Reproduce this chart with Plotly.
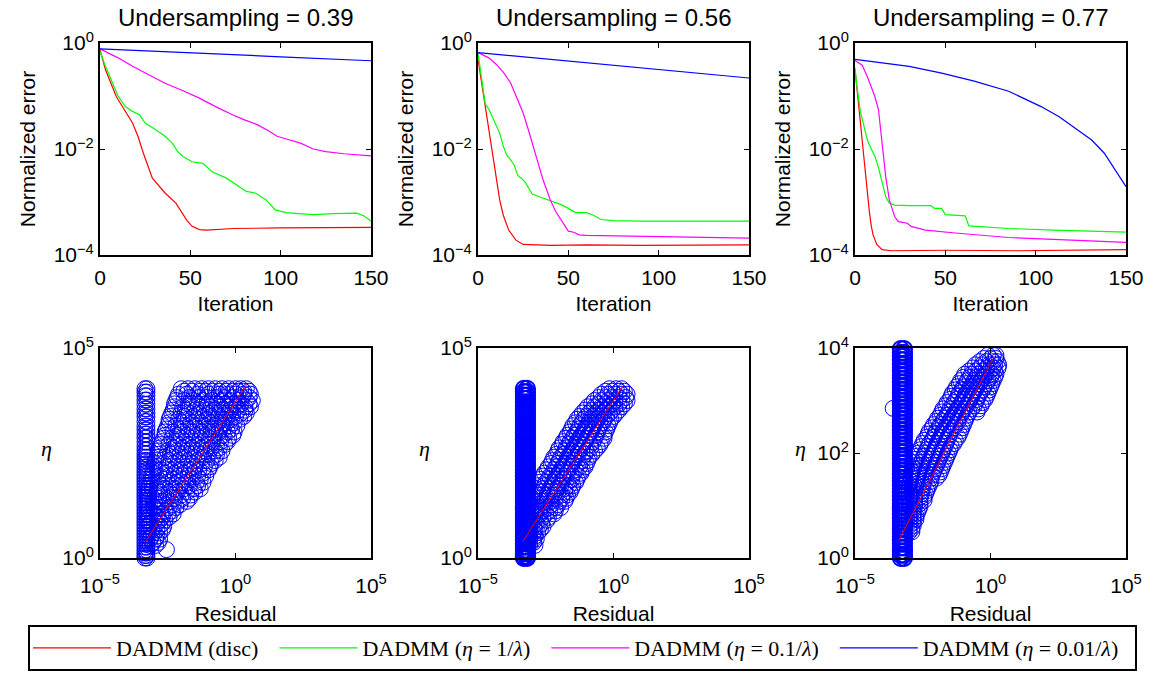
import plotly.graph_objects as go

W, H = 1165, 675

# ---------------- convergence curves (iteration, log10 normalized error) ----------------
undersampling = ["0.39", "0.56", "0.77"]

# 0.39
it_red_039 = [0, 3, 9, 14, 18, 21, 24, 29, 36, 42, 48, 51, 55, 59, 65, 74, 100, 150]
err_red_039 = [-0.13, -0.50, -1.01, -1.29, -1.51, -1.76, -2.08, -2.55, -2.83, -3.02, -3.34, -3.46, -3.52, -3.53, -3.52, -3.50, -3.49, -3.48]
it_grn_039 = [0, 3, 7, 10, 14, 18, 22, 25, 30, 36, 40, 43, 46, 51, 57, 62, 70, 77, 81, 86, 92, 97, 103, 110, 118, 129, 142, 146, 150]
err_grn_039 = [-0.16, -0.44, -0.76, -1.00, -1.20, -1.29, -1.36, -1.51, -1.62, -1.76, -1.89, -2.05, -2.14, -2.24, -2.27, -2.43, -2.55, -2.71, -2.80, -2.83, -2.96, -3.15, -3.20, -3.22, -3.24, -3.22, -3.21, -3.26, -3.36]
it_mag_039 = [0, 10, 18, 27, 36, 46, 55, 64, 73, 80, 87, 93, 98, 105, 111, 118, 125, 135, 150]
err_mag_039 = [-0.11, -0.28, -0.44, -0.60, -0.76, -0.90, -1.04, -1.20, -1.35, -1.45, -1.54, -1.65, -1.76, -1.83, -1.89, -2.00, -2.05, -2.09, -2.13]
it_blu_039 = [0, 50, 100, 150]
err_blu_039 = [-0.11, -0.18, -0.26, -0.335]

# 0.56
it_red_056 = [0, 2, 4, 6, 8, 10, 12, 14, 17, 21, 25, 40, 60, 90, 120, 150]
err_red_056 = [-0.31, -0.75, -1.15, -1.60, -2.10, -2.55, -2.96, -3.25, -3.53, -3.72, -3.80, -3.82, -3.81, -3.82, -3.81, -3.81]
it_grn_056 = [0, 2, 4, 6, 8, 10, 12, 14, 16, 18, 20, 22, 24, 26, 28, 30, 34, 38, 42, 46, 50, 54, 60, 64, 68, 75, 90, 150]
err_grn_056 = [-0.19, -0.70, -1.15, -1.25, -1.40, -1.55, -1.70, -1.95, -2.12, -2.20, -2.30, -2.50, -2.55, -2.62, -2.75, -2.85, -2.90, -2.95, -3.00, -3.05, -3.12, -3.20, -3.20, -3.25, -3.33, -3.35, -3.36, -3.36]
it_mag_056 = [0, 6, 10, 14, 18, 21, 25, 28, 30, 32, 34, 36, 38, 40, 43, 47, 50, 53, 56, 60, 80, 100, 150]
err_mag_056 = [-0.18, -0.28, -0.40, -0.55, -0.75, -1.00, -1.32, -1.65, -1.90, -2.12, -2.35, -2.58, -2.78, -2.96, -3.18, -3.40, -3.55, -3.57, -3.62, -3.63, -3.64, -3.65, -3.68]
it_blu_056 = [0, 50, 100, 150]
err_blu_056 = [-0.18, -0.34, -0.50, -0.66]

# 0.77
it_red_077 = [0, 1, 2, 3, 4, 5, 6, 7, 8, 9, 10, 12, 15, 20, 50, 90, 130, 150]
err_red_077 = [-0.50, -0.80, -1.15, -1.50, -1.85, -2.20, -2.55, -2.90, -3.20, -3.45, -3.62, -3.80, -3.90, -3.92, -3.91, -3.92, -3.91, -3.90]
it_grn_077 = [0, 1, 3, 5, 7, 9, 11, 13, 15, 17, 19, 22, 30, 42, 44, 48, 50, 55, 61, 63, 70, 85, 110, 150]
err_grn_077 = [-0.47, -0.80, -1.30, -1.60, -1.85, -2.00, -2.14, -2.35, -2.62, -2.90, -3.02, -3.06, -3.07, -3.07, -3.12, -3.12, -3.24, -3.25, -3.26, -3.45, -3.47, -3.50, -3.53, -3.57]
it_mag_077 = [0, 4, 7, 9, 11, 13, 14, 15, 16, 17, 19, 22, 24, 29, 31, 39, 57, 85, 120, 150]
err_mag_077 = [-0.33, -0.42, -0.65, -0.82, -1.01, -1.26, -1.55, -1.89, -2.25, -2.52, -2.96, -3.28, -3.37, -3.40, -3.46, -3.53, -3.59, -3.67, -3.72, -3.76]
it_blu_077 = [0, 30, 48, 66, 85, 103, 113, 122, 131, 138, 144, 150]
err_blu_077 = [-0.31, -0.44, -0.57, -0.72, -0.91, -1.20, -1.39, -1.61, -1.83, -2.08, -2.39, -2.71]

series_names = [
    "DADMM (disc)",
    "DADMM (<i>η</i> = 1/<i>λ</i>)",
    "DADMM (<i>η</i> = 0.1/<i>λ</i>)",
    "DADMM (<i>η</i> = 0.01/<i>λ</i>)",
]
series_colors = ["rgb(255,0,0)", "rgb(0,255,0)", "rgb(255,0,255)", "rgb(0,0,255)"]

curves = [
    [(it_red_039, err_red_039), (it_grn_039, err_grn_039), (it_mag_039, err_mag_039), (it_blu_039, err_blu_039)],
    [(it_red_056, err_red_056), (it_grn_056, err_grn_056), (it_mag_056, err_mag_056), (it_blu_056, err_blu_056)],
    [(it_red_077, err_red_077), (it_grn_077, err_grn_077), (it_mag_077, err_mag_077), (it_blu_077, err_blu_077)],
]

# ---------------- eta vs residual (log10 residual, log10 eta) ----------------
# vertical column of points at the residual floor
col_res_039 = [-3.34, -3.27]
col_eta_039 = [4.03, 3.95, 3.86, 3.76, 3.66, 3.55, 3.45, 3.36, 3.25, 3.14, 3.05, 2.95, 2.86, 2.76, 2.66,
               2.57, 2.48, 2.40, 2.32, 2.24, 2.16, 2.08, 2.01, 1.94, 1.87, 1.80, 1.73, 1.66, 1.59, 1.52,
               1.45, 1.38, 1.31, 1.24, 1.17, 1.10, 1.03, 0.96, 0.89, 0.82, 0.75, 0.68, 0.61, 0.54, 0.47,
               0.40, 0.33, 0.26, 0.19, 0.12, 0.06, 0.00]
col_res_056 = [-3.31, -3.19]
col_eta_056 = [4.03, 3.95, 3.87, 3.79, 3.71, 3.63, 3.55, 3.47, 3.39, 3.31, 3.23, 3.15, 3.07, 2.99, 2.91,
               2.83, 2.75, 2.67, 2.59, 2.51, 2.43, 2.35, 2.27, 2.19, 2.11, 2.03, 1.95, 1.87, 1.79, 1.71,
               1.63, 1.55, 1.47, 1.39, 1.31, 1.23, 1.15, 1.07, 0.99, 0.91, 0.83, 0.75, 0.67, 0.59, 0.51,
               0.43, 0.35, 0.27, 0.19, 0.11, 0.04, 0.00]
col_res_077 = [-3.31, -3.19]
col_eta_077 = [3.98, 3.91, 3.84, 3.77, 3.70, 3.63, 3.56, 3.49, 3.42, 3.35, 3.28, 3.21, 3.14, 3.07, 3.00,
               2.93, 2.86, 2.79, 2.72, 2.65, 2.58, 2.51, 2.44, 2.37, 2.30, 2.23, 2.16, 2.09, 2.02, 1.95,
               1.88, 1.81, 1.74, 1.67, 1.60, 1.53, 1.46, 1.39, 1.32, 1.25, 1.18, 1.11, 1.04, 0.97, 0.90,
               0.83, 0.76, 0.69, 0.62, 0.55, 0.48, 0.41, 0.34, 0.27, 0.20, 0.13, 0.06, 0.00]

# diagonal band: rows of (log10 eta, [log10 residual, ...])
band_039 = [
    (4.03, [-2.0, -1.75, -1.5, -1.25, -1.0, -0.75, -0.5, -0.25, 0.0, 0.2, 0.4]),
    (3.97, [-1.9, -1.6, -1.3, -1.1, -0.85, -0.6, -0.35, -0.1, 0.1, 0.3, 0.5]),
    (3.90, [-2.1, -1.8, -1.4, -1.0, -0.6, -0.3, 0.0, 0.3, 0.55]),
    (3.82, [-2.15, -1.7, -1.35, -1.05, -0.7, -0.4, -0.1, 0.25, 0.5]),
    (3.75, [-2.2, -1.9, -1.55, -1.2, -0.85, -0.5, -0.2, 0.1, 0.4, 0.62]),
    (3.67, [-2.25, -1.75, -1.4, -1.05, -0.7, -0.4, -0.1, 0.2, 0.5]),
    (3.60, [-2.25, -1.95, -1.6, -1.25, -0.9, -0.55, -0.25, 0.05, 0.35, 0.55]),
    (3.52, [-2.3, -1.85, -1.5, -1.15, -0.8, -0.5, -0.2, 0.1, 0.35]),
    (3.45, [-2.35, -2.0, -1.7, -1.35, -1.0, -0.7, -0.4, -0.1, 0.2, 0.4]),
    (3.37, [-2.4, -1.9, -1.55, -1.2, -0.9, -0.6, -0.3, 0.0, 0.3]),
    (3.30, [-2.45, -2.1, -1.75, -1.4, -1.05, -0.75, -0.45, -0.15, 0.15]),
    (3.22, [-2.45, -2.0, -1.65, -1.3, -0.95, -0.65, -0.35, -0.05]),
    (3.15, [-2.5, -2.2, -1.85, -1.5, -1.15, -0.8, -0.5, -0.2, 0.05]),
    (3.07, [-2.55, -2.1, -1.75, -1.4, -1.05, -0.75, -0.45, -0.15]),
    (3.00, [-2.6, -2.3, -1.95, -1.6, -1.25, -0.9, -0.6, -0.3, -0.05]),
    (2.92, [-2.6, -2.15, -1.8, -1.45, -1.1, -0.8, -0.45, -0.1]),
    (2.85, [-2.65, -2.35, -2.0, -1.65, -1.3, -0.95, -0.6, -0.25]),
    (2.77, [-2.7, -2.25, -1.9, -1.55, -1.2, -0.85, -0.55, -0.3]),
    (2.70, [-2.75, -2.45, -2.1, -1.75, -1.4, -1.05, -0.7, -0.4]),
    (2.62, [-2.8, -2.3, -1.95, -1.6, -1.25, -0.9, -0.6]),
    (2.55, [-2.85, -2.5, -2.15, -1.8, -1.45, -1.1, -0.75, -0.5]),
    (2.47, [-2.85, -2.4, -2.05, -1.7, -1.35, -1.0, -0.7]),
    (2.40, [-2.9, -2.6, -2.25, -1.9, -1.55, -1.2, -0.85, -0.6]),
    (2.32, [-2.95, -2.45, -2.1, -1.75, -1.4, -1.05, -0.75]),
    (2.25, [-3.0, -2.65, -2.3, -1.95, -1.6, -1.25, -0.9]),
    (2.17, [-3.0, -2.55, -2.2, -1.85, -1.5, -1.15, -0.95]),
    (2.10, [-3.05, -2.75, -2.4, -2.05, -1.7, -1.35, -1.0]),
    (2.02, [-3.05, -2.6, -2.25, -1.9, -1.55, -1.2]),
    (1.95, [-3.1, -2.8, -2.45, -2.1, -1.75, -1.4, -1.1]),
    (1.87, [-3.1, -2.65, -2.3, -1.95, -1.6, -1.3]),
    (1.80, [-3.15, -2.85, -2.5, -2.15, -1.8, -1.45, -1.2]),
    (1.72, [-3.15, -2.75, -2.4, -2.05, -1.7, -1.4]),
    (1.65, [-3.2, -2.9, -2.6, -2.25, -1.9, -1.55, -1.3]),
    (1.57, [-3.2, -2.8, -2.45, -2.15, -1.8, -1.5]),
    (1.50, [-3.2, -2.95, -2.65, -2.3, -2.0, -1.65]),
    (1.42, [-3.2, -2.85, -2.55, -2.25, -1.95, -1.7]),
    (1.35, [-3.25, -3.0, -2.7, -2.4, -2.1, -1.8]),
    (1.27, [-3.25, -2.9, -2.6, -2.3, -2.05]),
    (1.20, [-3.25, -3.0, -2.75, -2.45, -2.2]),
    (1.12, [-3.2, -2.9, -2.6, -2.35]),
    (1.05, [-3.25, -3.0, -2.75, -2.5, -2.3]),
    (0.97, [-3.2, -2.9, -2.7, -2.45]),
    (0.90, [-3.25, -3.0, -2.8, -2.6]),
    (0.82, [-3.15, -2.9, -2.7]),
    (0.75, [-3.2, -3.0, -2.8, -2.65]),
    (0.67, [-3.1, -2.9, -2.7]),
    (0.60, [-3.2, -3.0, -2.8]),
    (0.52, [-3.1, -2.9]),
    (0.45, [-3.15, -2.95, -2.8]),
    (0.37, [-3.05, -2.85]),
    (0.30, [-3.15, -2.95]),
    (0.20, [-2.55]),
]
band_056 = [
    (4.03, [-0.15, 0.1, 0.3]),
    (3.97, [-0.3, -0.05, 0.2, 0.4]),
    (3.90, [-0.45, -0.2, 0.05, 0.3, 0.5]),
    (3.82, [-0.55, -0.3, -0.05, 0.2, 0.45]),
    (3.75, [-0.7, -0.45, -0.2, 0.05, 0.3, 0.5]),
    (3.67, [-0.8, -0.55, -0.3, -0.05, 0.2, 0.4]),
    (3.60, [-0.95, -0.7, -0.45, -0.2, 0.05, 0.3]),
    (3.52, [-1.05, -0.8, -0.55, -0.3, -0.05, 0.2]),
    (3.45, [-1.15, -0.9, -0.65, -0.4, -0.15, 0.1]),
    (3.37, [-1.25, -1.0, -0.75, -0.5, -0.25, 0.0]),
    (3.30, [-1.35, -1.1, -0.85, -0.6, -0.35, -0.1]),
    (3.22, [-1.4, -1.15, -0.9, -0.65, -0.4, -0.15]),
    (3.15, [-1.5, -1.25, -1.0, -0.75, -0.5, -0.2]),
    (3.07, [-1.55, -1.3, -1.05, -0.8, -0.55, -0.25]),
    (3.00, [-1.6, -1.35, -1.1, -0.85, -0.6, -0.3]),
    (2.92, [-1.7, -1.45, -1.2, -0.95, -0.65, -0.35]),
    (2.85, [-1.75, -1.5, -1.25, -1.0, -0.7, -0.35]),
    (2.77, [-1.85, -1.6, -1.35, -1.05, -0.75, -0.45]),
    (2.70, [-1.9, -1.65, -1.4, -1.15, -0.85, -0.5]),
    (2.62, [-2.0, -1.75, -1.45, -1.15, -0.85, -0.6]),
    (2.55, [-2.05, -1.8, -1.55, -1.3, -1.0, -0.7]),
    (2.47, [-2.1, -1.85, -1.6, -1.3, -1.05, -0.8]),
    (2.40, [-2.2, -1.95, -1.7, -1.45, -1.15, -0.9]),
    (2.32, [-2.25, -2.0, -1.7, -1.45, -1.15, -0.95]),
    (2.25, [-2.3, -2.05, -1.8, -1.55, -1.3, -1.0]),
    (2.17, [-2.4, -2.1, -1.85, -1.55, -1.25, -1.05]),
    (2.10, [-2.45, -2.2, -1.95, -1.7, -1.4, -1.15]),
    (2.02, [-2.55, -2.25, -2.0, -1.7, -1.45, -1.2]),
    (1.95, [-2.6, -2.35, -2.1, -1.85, -1.55, -1.3]),
    (1.87, [-2.7, -2.4, -2.15, -1.85, -1.55, -1.35]),
    (1.80, [-2.75, -2.5, -2.25, -2.0, -1.7, -1.4]),
    (1.72, [-2.8, -2.55, -2.25, -1.95, -1.65, -1.5]),
    (1.65, [-2.85, -2.6, -2.35, -2.1, -1.8, -1.55]),
    (1.57, [-2.9, -2.65, -2.35, -2.05, -1.8, -1.6]),
    (1.50, [-2.95, -2.7, -2.45, -2.2, -1.9, -1.7]),
    (1.42, [-3.0, -2.7, -2.45, -2.15, -1.9, -1.75]),
    (1.35, [-3.0, -2.8, -2.55, -2.3, -2.0, -1.8]),
    (1.27, [-3.05, -2.8, -2.55, -2.3, -2.05]),
    (1.20, [-3.05, -2.85, -2.65, -2.4, -2.15, -1.95]),
    (1.12, [-3.05, -2.85, -2.6, -2.35, -2.15]),
    (1.05, [-3.1, -2.9, -2.7, -2.5, -2.2]),
    (0.97, [-3.1, -2.85, -2.6, -2.4]),
    (0.90, [-3.1, -2.9, -2.7, -2.45]),
    (0.82, [-3.1, -2.85, -2.65]),
    (0.75, [-3.1, -2.95, -2.75, -2.6]),
    (0.67, [-3.1, -2.9, -2.7]),
    (0.60, [-3.1, -2.95, -2.8]),
    (0.52, [-3.1, -2.9]),
    (0.45, [-3.1, -2.95, -2.85]),
    (0.37, [-3.1, -2.95]),
    (0.30, [-3.1, -2.9]),
]
band_077 = [
    (3.86, [-0.1, 0.1, 0.2]),
    (3.80, [-0.25, 0.0, 0.2]),
    (3.74, [-0.4, -0.15, 0.1, 0.25]),
    (3.68, [-0.55, -0.3, -0.05, 0.15, 0.3]),
    (3.62, [-0.65, -0.4, -0.15, 0.1, 0.28]),
    (3.56, [-0.8, -0.55, -0.3, -0.05, 0.15]),
    (3.50, [-0.95, -0.7, -0.45, -0.2, 0.05, 0.2]),
    (3.44, [-1.0, -0.75, -0.5, -0.25, 0.0, 0.15]),
    (3.38, [-1.1, -0.85, -0.6, -0.35, -0.1, 0.1]),
    (3.32, [-1.15, -0.9, -0.65, -0.4, -0.15, 0.05]),
    (3.26, [-1.25, -1.0, -0.75, -0.5, -0.25, 0.0]),
    (3.20, [-1.3, -1.05, -0.8, -0.55, -0.3, -0.05]),
    (3.14, [-1.4, -1.15, -0.9, -0.65, -0.4, -0.1]),
    (3.08, [-1.45, -1.2, -0.95, -0.7, -0.45, -0.15]),
    (3.02, [-1.5, -1.25, -1.0, -0.75, -0.5, -0.2]),
    (2.96, [-1.6, -1.35, -1.05, -0.8, -0.55, -0.3]),
    (2.90, [-1.65, -1.4, -1.15, -0.9, -0.6, -0.35]),
    (2.85, [-3.59]),
    (2.84, [-1.75, -1.5, -1.2, -0.95, -0.7, -0.45]),
    (2.78, [-1.8, -1.55, -1.3, -1.05, -0.8, -0.5]),
    (2.72, [-1.85, -1.6, -1.35, -1.1, -0.85]),
    (2.66, [-1.95, -1.7, -1.45, -1.2, -0.9]),
    (2.60, [-2.0, -1.75, -1.5, -1.2, -0.95]),
    (2.54, [-2.1, -1.85, -1.6, -1.3, -1.0]),
    (2.48, [-2.15, -1.9, -1.65, -1.35, -1.05]),
    (2.42, [-2.25, -2.0, -1.75, -1.45, -1.1]),
    (2.36, [-2.3, -2.05, -1.8, -1.5, -1.15]),
    (2.30, [-2.35, -2.1, -1.85, -1.55, -1.2]),
    (2.24, [-2.45, -2.15, -1.9, -1.6, -1.3]),
    (2.18, [-2.5, -2.25, -1.95, -1.65, -1.35]),
    (2.12, [-2.55, -2.3, -2.0, -1.7, -1.45]),
    (2.06, [-2.6, -2.35, -2.05, -1.75, -1.5]),
    (2.00, [-2.65, -2.4, -2.1, -1.8, -1.55]),
    (1.94, [-2.7, -2.45, -2.15, -1.85, -1.6]),
    (1.88, [-2.75, -2.5, -2.2, -1.9, -1.65]),
    (1.82, [-2.8, -2.55, -2.25, -1.95, -1.7]),
    (1.76, [-2.8, -2.55, -2.3, -2.0, -1.75]),
    (1.70, [-2.85, -2.6, -2.35, -2.05, -1.8]),
    (1.64, [-2.9, -2.65, -2.4, -2.1, -1.85]),
    (1.58, [-2.9, -2.65, -2.4, -2.15, -1.9]),
    (1.52, [-2.95, -2.7, -2.45, -2.2, -2.0]),
    (1.46, [-2.95, -2.7, -2.45, -2.2]),
    (1.40, [-3.0, -2.75, -2.5, -2.25]),
    (1.34, [-3.0, -2.75, -2.5, -2.3]),
    (1.28, [-3.0, -2.8, -2.55, -2.35]),
    (1.22, [-3.0, -2.8, -2.55, -2.4]),
    (1.16, [-3.0, -2.8, -2.6, -2.45]),
    (1.10, [-3.0, -2.8, -2.6, -2.45]),
    (1.04, [-3.0, -2.8, -2.6]),
    (0.98, [-3.0, -2.8, -2.6]),
    (0.92, [-3.0, -2.85, -2.65]),
    (0.86, [-3.0, -2.85, -2.7]),
    (0.80, [-3.0, -2.85, -2.75]),
    (0.74, [-3.0, -2.85, -2.75]),
    (0.68, [-3.0, -2.85]),
    (0.62, [-3.0, -2.85]),
    (0.56, [-3.0, -2.9]),
    (0.50, [-3.0, -2.9]),
]

# fitted line through the band (log10 residual, log10 eta)
fit_res_039, fit_eta_039 = [-3.31, 0.41], [0.40, 4.13]
fit_res_056, fit_eta_056 = [-3.34, 0.33], [0.40, 4.09]
fit_res_077, fit_eta_077 = [-3.38, 0.09], [0.34, 3.80]

scatter_sets = [
    (col_res_039, col_eta_039, band_039, fit_res_039, fit_eta_039, 1.0),
    (col_res_056, col_eta_056, band_056, fit_res_056, fit_eta_056, 2.0),
    (col_res_077, col_eta_077, band_077, fit_res_077, fit_eta_077, 2.0),
]
eta_top_exp = [5, 5, 4]

# ---------------- layout geometry (pixels) ----------------
panel_x = [(100, 371), (478, 749), (855, 1126)]
top_y = (43, 255)
bot_y = (348, 558)


def px_dom_x(a, b):
    return [a / W, b / W]


def px_dom_y(top, bottom):
    return [1 - bottom / H, 1 - top / H]


def sup(base, e):
    e = str(e).replace("-", "\u2212")
    return f"{base}<sup>{e}</sup>"


fig = go.Figure()

axis_font = dict(family="Liberation Sans, Arial, sans-serif", size=21, color="black")
common_axis = dict(showgrid=False, zeroline=False, showline=True, linecolor="black", linewidth=2,
                   mirror="ticks", ticks="inside", ticklen=5, tickwidth=1, tickcolor="black",
                   tickfont=axis_font, automargin=False)

for i in range(3):
    xa = f"x{i + 1}"
    ya = f"y{i + 1}"
    for k, (its, errs) in enumerate(curves[i]):
        fig.add_trace(go.Scatter(
            x=its, y=[10 ** e for e in errs], mode="lines",
            line=dict(color=series_colors[k], width=1.2),
            name=series_names[k] + "\u00a0\u00a0", legendgroup=f"s{k}", showlegend=(i == 0),
            xaxis=xa, yaxis=ya))

for i in range(3):
    xa = f"x{i + 4}"
    ya = f"y{i + 4}"
    col_res, col_eta, band, fr, fe, col_lw = scatter_sets[i]
    cx, cy = [], []
    for e in col_eta:
        for r in col_res:
            cx.append(10 ** r)
            cy.append(10 ** e)
    fig.add_trace(go.Scatter(
        x=cx, y=cy, mode="markers", showlegend=False, cliponaxis=False,
        marker=dict(symbol="circle-open", size=16, color="rgb(0,0,255)",
                    line=dict(width=col_lw, color="rgb(0,0,255)")),
        xaxis=xa, yaxis=ya))
    bx, by = [], []
    for e, rs in band:
        for r in rs:
            bx.append(10 ** r)
            by.append(10 ** e)
    fig.add_trace(go.Scatter(
        x=bx, y=by, mode="markers", showlegend=False, cliponaxis=False,
        marker=dict(symbol="circle-open", size=16, color="rgb(0,0,255)",
                    line=dict(width=1, color="rgb(0,0,255)")),
        xaxis=xa, yaxis=ya))
    fig.add_trace(go.Scatter(
        x=[10 ** r for r in fr], y=[10 ** e for e in fe], mode="lines", showlegend=False,
        line=dict(color="rgb(255,0,0)", width=1), xaxis=xa, yaxis=ya))

layout = dict(
    width=W, height=H, margin=dict(l=0, r=0, t=0, b=0, autoexpand=False),
    paper_bgcolor="white", plot_bgcolor="white",
    font=dict(family="Liberation Sans, Arial, sans-serif", color="black"),
    showlegend=True,
    legend=dict(orientation="h", x=0.5, xanchor="center", y=1 - 671 / H, yanchor="bottom",
                bordercolor="black", borderwidth=2, bgcolor="white",
                font=dict(family="Liberation Serif, Times New Roman, serif", size=22, color="black"),
                itemwidth=78, tracegroupgap=0),
)

annotations = []
for i in range(3):
    a, b = panel_x[i]
    n = i + 1
    layout[f"xaxis{n}"] = dict(common_axis, domain=px_dom_x(a, b), anchor=f"y{n}",
                               range=[0, 150], tickvals=[0, 50, 100, 150], ticklabelstandoff=3,
                               title=dict(text="Iteration", font=axis_font, standoff=8))
    layout[f"yaxis{n}"] = dict(common_axis, domain=px_dom_y(*top_y), anchor=f"x{n}", type="log",
                               range=[-4, 0], tickvals=[1e-4, 1e-2, 1],
                               ticktext=[sup(10, -4), sup(10, -2), sup(10, 0)],
                               title=dict(text="Normalized error", font=axis_font, standoff=12))
    annotations.append(dict(text=f"Undersampling = {undersampling[i]}", x=(a + b) / 2 / W,
                            y=1 - 17 / H, xref="paper", yref="paper", showarrow=False,
                            xanchor="center", yanchor="middle",
                            font=dict(family="Liberation Sans, Arial, sans-serif", size=24, color="black")))

    m = i + 4
    top_e = eta_top_exp[i]
    ytv = [1, 1e2, 1e4] if top_e == 4 else [1, 1e5]
    ytt = [sup(10, 0), sup(10, 2), sup(10, 4)] if top_e == 4 else [sup(10, 0), sup(10, 5)]
    layout[f"xaxis{m}"] = dict(common_axis, domain=px_dom_x(a, b), anchor=f"y{m}", type="log",
                               range=[-5, 5], tickvals=[1e-5, 1, 1e5], ticklabelstandoff=8,
                               ticktext=[sup(10, -5), sup(10, 0), sup(10, 5)],
                               title=dict(text="Residual", font=axis_font, standoff=10))
    layout[f"yaxis{m}"] = dict(common_axis, domain=px_dom_y(*bot_y), anchor=f"x{m}", type="log",
                               range=[0, top_e], tickvals=ytv, ticktext=ytt)
    annotations.append(dict(text="<i>η</i>", x=(a - 54) / W, y=1 - 448 / H, xref="paper", yref="paper",
                            showarrow=False, xanchor="center", yanchor="middle",
                            font=dict(family="Liberation Serif, Times New Roman, serif", size=22, color="black")))

layout["annotations"] = annotations
fig.update_layout(**layout)

fig.write_html("out.html")
